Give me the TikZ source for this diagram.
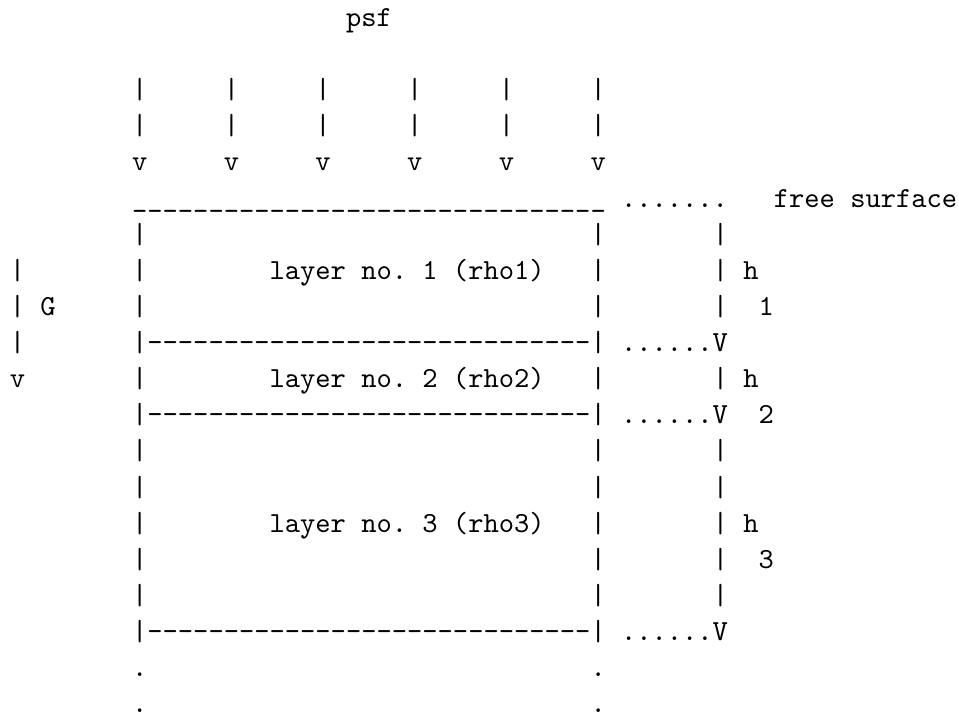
\documentclass[tikz,border=0pt]{standalone}
\newcommand\dd{-\kern0pt}
\newcommand\dashrow{|\dd\dd\dd\dd\dd\dd\dd\dd\dd\dd\dd\dd\dd\dd\dd\dd\dd\dd\dd\dd\dd\dd\dd\dd\dd\dd\dd\dd\dd|}
\newcommand\underrow{\_\_\_\_\_\_\_\_\_\_\_\_\_\_\_\_\_\_\_\_\_\_\_\_\_\_\_\_\_\_\_}
\tikzset{ascii/.style={inner sep=0pt, outer sep=0pt, anchor=base west,
  font=\fontsize{10}{12}\selectfont\ttfamily\frenchspacing, text=black}}
\newcommand\asc[4]{\node[ascii] (#1) at ({3.39pt+#2*5.25pt},{-9.1pt-#3*12.41pt}) {#4};}
\begin{document}
\begin{tikzpicture}
\useasboundingbox (0,0) rectangle (329.5pt,-246.7pt);
% title
\asc{psf}{22}{0}{psf}
% incoming arrows
\foreach \c [count=\i] in {8,14,20,26,32,38}{
  \asc{a\i r2}{\c}{2}{|}
  \asc{a\i r3}{\c}{3}{|}
  \asc{a\i r4}{\c}{4}{v}
}
% free surface
\asc{surf}{8}{5}{\underrow}
\asc{surfdots}{40}{5}{.......}
\asc{surflbl}{50}{5}{free surface}
% box sides and h-bar on plain rows
\foreach \r in {6,7,8,10,12,13,14,15,16}{
  \asc{bl\r}{8}{\r}{|}
  \asc{br\r}{38}{\r}{|}
  \asc{hb\r}{46}{\r}{|}
}
% gravity arrow
\asc{g7}{0}{7}{|}
\asc{g8}{0}{8}{|}
\asc{gG}{2}{8}{G}
\asc{g9}{0}{9}{|}
\asc{g10}{0}{10}{v}
% layer labels
\asc{lay1}{17}{7}{layer no. 1 (rho1)}
\asc{lay2}{17}{10}{layer no. 2 (rho2)}
\asc{lay3}{17}{14}{layer no. 3 (rho3)}
% interfaces
\asc{if1}{8}{9}{\dashrow}
\asc{if1d}{40}{9}{......V}
\asc{if2}{8}{11}{\dashrow}
\asc{if2d}{40}{11}{......V}
\asc{if3}{8}{17}{\dashrow}
\asc{if3d}{40}{17}{......V}
% thickness labels
\asc{h1}{48}{7}{h}
\asc{h1i}{49}{8}{1}
\asc{h2}{48}{10}{h}
\asc{h2i}{49}{11}{2}
\asc{h3}{48}{14}{h}
\asc{h3i}{49}{15}{3}
% continuation dots
\asc{c1l}{8}{18}{.}
\asc{c1r}{38}{18}{.}
\asc{c2l}{8}{19}{.}
\asc{c2r}{38}{19}{.}
\end{tikzpicture}
\end{document}
